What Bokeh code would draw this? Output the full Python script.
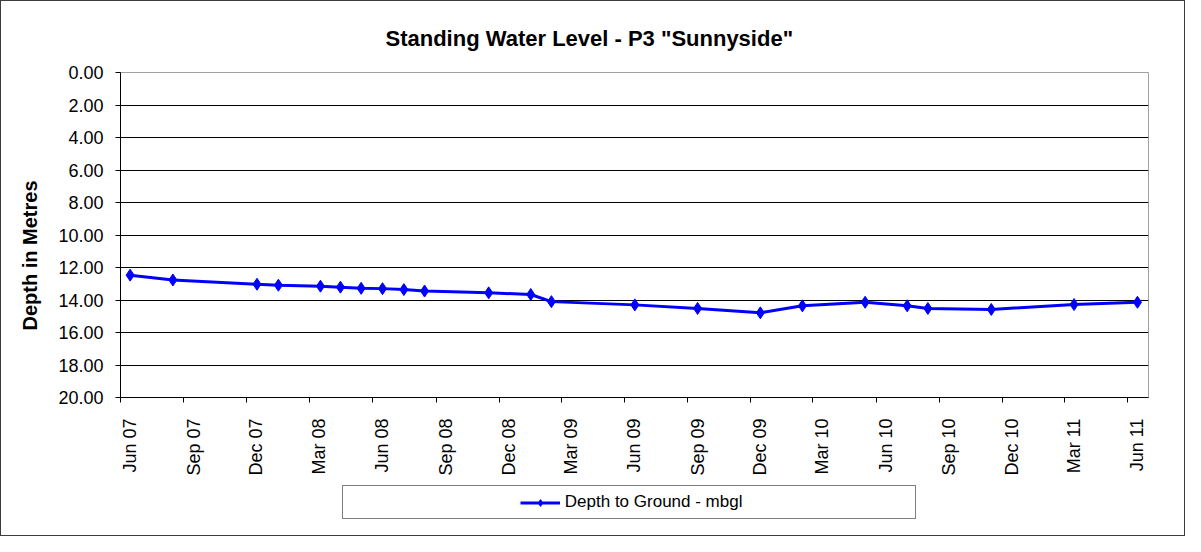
import math
import pandas as pd
from bokeh.plotting import figure
from bokeh.layouts import column
from bokeh.models import (Range1d, FixedTicker, NumeralTickFormatter, LinearAxis,
                          CustomJSTickFormatter, Legend, LegendItem, Title)
from bokeh.embed import file_html
from bokeh.resources import INLINE

# ---------------- data ----------------
title_text = 'Standing Water Level - P3 "Sunnyside"'
y_axis_title = "Depth in Metres"
series_name = "Depth to Ground - mbgl"

sample_dates = ["2007-06-15", "2007-08-16", "2007-12-16", "2008-01-16", "2008-03-17",
                "2008-04-15", "2008-05-15", "2008-06-15", "2008-07-16", "2008-08-15",
                "2008-11-16", "2009-01-16", "2009-02-15", "2009-06-16", "2009-09-15",
                "2009-12-15", "2010-02-14", "2010-05-16", "2010-07-16", "2010-08-15",
                "2010-11-15", "2011-03-15", "2011-06-15"]
depth_m = [12.47, 12.77, 13.03, 13.09, 13.15, 13.21, 13.28, 13.30, 13.36, 13.45,
           13.56, 13.66, 14.10, 14.30, 14.52, 14.79, 14.36, 14.14, 14.36, 14.52,
           14.58, 14.28, 14.14]

x_tick_labels = ["Jun 07", "Sep 07", "Dec 07", "Mar 08", "Jun 08", "Sep 08", "Dec 08",
                 "Mar 09", "Jun 09", "Sep 09", "Dec 09", "Mar 10", "Jun 10", "Sep 10",
                 "Dec 10", "Mar 11", "Jun 11"]
y_tick_values = [0, 2, 4, 6, 8, 10, 12, 14, 16, 18, 20]
x_start = "2007-06-01"
x_end = "2011-07-01"

# ---------------- build ----------------
FONT = "Liberation Sans"
BLUE = "#0000FF"
W = 1183
H_MAIN = 480
H_LEG = 54

xs = pd.to_datetime(sample_dates)
tick_dt = pd.to_datetime(["01 " + t for t in x_tick_labels], format="%d %b %y")
tick_ms = [t.timestamp() * 1000.0 for t in tick_dt]
label_shift_ms = 14 * 86400000.0

p = figure(width=W, height=H_MAIN, x_axis_type="datetime",
           x_range=Range1d(pd.Timestamp(x_start), pd.Timestamp(x_end)),
           y_range=Range1d(20, 0),
           output_backend="svg", toolbar_location=None,
           min_border_left=119, min_border_right=36,
           min_border_top=71, min_border_bottom=84)
p.background_fill_color = "white"
p.border_fill_color = "white"
p.outline_line_color = "#a0a0a0"

# title (above)
p.title.text = title_text
p.title.align = "left"
p.title.offset = 265
p.title.text_font = FONT
p.title.text_font_style = "bold"
p.title.text_font_size = "22px"
p.title.text_color = "black"
p.title.standoff = 44

# grid
p.xgrid.visible = False
p.ygrid.grid_line_color = "black"
p.ygrid.grid_line_width = 1
p.ygrid.ticker = FixedTicker(ticks=y_tick_values)

# y axis
ya = p.yaxis[0]
ya.ticker = FixedTicker(ticks=y_tick_values)
ya.formatter = NumeralTickFormatter(format="0.00")
ya.major_label_text_font = FONT
ya.major_label_text_font_size = "18px"
ya.major_label_text_color = "black"
ya.major_label_standoff = 12
ya.major_tick_out = 5
ya.major_tick_in = 0
ya.minor_tick_line_color = None
ya.axis_line_color = "black"
ya.major_tick_line_color = "black"

# y axis title as a side title (left), placed a little below centre
p.add_layout(Title(text=y_axis_title, align="left", offset=67, standoff=30,
                   vertical_align="bottom",
                   text_font=FONT, text_font_style="bold",
                   text_font_size="20px", text_color="black"), "left")

# x axis: tick marks only
xa = p.xaxis[0]
xa.ticker = FixedTicker(ticks=tick_ms)
xa.formatter = CustomJSTickFormatter(code="return '';")
xa.major_label_text_font_size = "0px"
xa.major_label_standoff = 0
xa.major_tick_out = 5
xa.major_tick_in = 0
xa.minor_tick_line_color = None
xa.axis_line_color = "black"
xa.major_tick_line_color = "black"

# x axis: labels (shifted slightly right, like the reference)
xa2 = LinearAxis(ticker=FixedTicker(ticks=[t + label_shift_ms for t in tick_ms]),
                 formatter=CustomJSTickFormatter(args=dict(labels=x_tick_labels),
                                                 code="return labels[index];"),
                 major_label_orientation=math.pi / 2,
                 axis_line_color=None, major_tick_line_color=None,
                 minor_tick_line_color=None,
                 major_label_standoff=10,
                 major_label_text_font=FONT,
                 major_label_text_font_size="18px",
                 major_label_text_color="black")
p.add_layout(xa2, "below")

# data
p.line(xs, depth_m, line_color=BLUE, line_width=3)
p.scatter(xs, depth_m, marker="diamond", size=12, fill_color=BLUE, line_color=BLUE)

# ---------------- legend strip ----------------
q = figure(width=W, height=H_LEG, x_range=Range1d(0, 1), y_range=Range1d(0, 1),
           output_backend="svg", toolbar_location=None,
           x_axis_location=None, y_axis_location=None,
           min_border=0, min_border_left=0, min_border_right=0,
           min_border_top=0, min_border_bottom=0)
q.grid.visible = False
q.outline_line_color = None
q.background_fill_color = "white"
q.border_fill_color = "white"
# key renderers carry the same series (far outside this strip's ranges, so unseen)
k_line = q.line(xs, depth_m, line_color=BLUE, line_width=3)
k_pts = q.scatter(xs, depth_m, marker="diamond", size=12, fill_color=BLUE, line_color=BLUE)
k_blank = q.line(xs, depth_m, line_alpha=0)

leg = Legend(items=[LegendItem(label="\u00a0" * 26, renderers=[k_blank]),
                    LegendItem(label=series_name, renderers=[k_line, k_pts]),
                    LegendItem(label="\u00a0" * 25, renderers=[k_blank])],
             orientation="horizontal", location=(222, 16),
             margin=0, padding=6, spacing=3,
             glyph_width=40, glyph_height=17, label_standoff=5,
             label_width=0, label_height=17,
             label_text_font=FONT, label_text_font_size="17px",
             label_text_color="black",
             border_line_color="black", border_line_width=1,
             background_fill_color="white", background_fill_alpha=1)
q.add_layout(leg)

page = column(p, q, spacing=0)
page.styles = {"border": "1px solid #3c3c3c"}

open("out.html", "w").write(file_html(page, INLINE))
